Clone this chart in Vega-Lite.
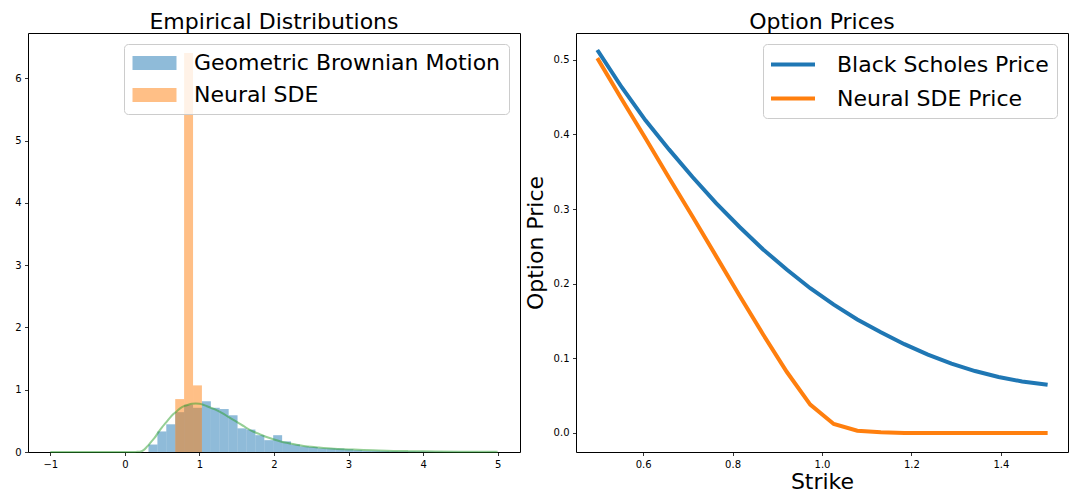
{
  "$schema": "https://vega.github.io/schema/vega-lite/v6.json",
  "padding": {"left": 0, "top": 10, "right": 0, "bottom": 0},
  "background": "white",
  "spacing": 2,
  "config": {
    "font": "DejaVu Sans",
    "view": {"stroke": "black", "strokeWidth": 1},
    "title": {"fontSize": 22, "font": "DejaVu Sans", "fontWeight": "normal", "color": "black", "offset": -1, "anchor": "middle"},
    "axis": {
      "grid": false, "domain": false, "tickColor": "black", "tickSize": 3.5, "tickWidth": 0.8,
      "labelFont": "DejaVu Sans", "labelFontSize": 10, "labelColor": "black", "labelPadding": 3.5,
      "titleFont": "DejaVu Sans", "titleFontSize": 22, "titleFontWeight": "normal", "titleColor": "black"
    },
    "legend": {
      "orient": "top-right", "offset": 11, "fillColor": "rgba(255,255,255,0.8)", "strokeColor": "#cccccc",
      "padding": 8, "cornerRadius": 4, "labelFont": "DejaVu Sans", "labelFontSize": 22, "labelColor": "black",
      "rowPadding": 10, "title": null, "labelLimit": 500, "symbolSize": 441
    }
  },
  "resolve": {"scale": {"color": "independent"}, "legend": {"color": "independent"}},
  "hconcat": [
    {
      "title": "Empirical Distributions",
      "width": 492,
      "height": 419,
      "layer": [
        {
          "data": {"values": [
            {"series": "Geometric Brownian Motion", "x0": 0.316, "x1": 0.436, "density": 0.12},
            {"series": "Geometric Brownian Motion", "x0": 0.436, "x1": 0.555, "density": 0.33},
            {"series": "Geometric Brownian Motion", "x0": 0.555, "x1": 0.675, "density": 0.445},
            {"series": "Geometric Brownian Motion", "x0": 0.675, "x1": 0.794, "density": 0.64},
            {"series": "Geometric Brownian Motion", "x0": 0.794, "x1": 0.914, "density": 0.76},
            {"series": "Geometric Brownian Motion", "x0": 0.914, "x1": 1.033, "density": 0.71},
            {"series": "Geometric Brownian Motion", "x0": 1.033, "x1": 1.153, "density": 0.815},
            {"series": "Geometric Brownian Motion", "x0": 1.153, "x1": 1.272, "density": 0.71},
            {"series": "Geometric Brownian Motion", "x0": 1.272, "x1": 1.392, "density": 0.69},
            {"series": "Geometric Brownian Motion", "x0": 1.392, "x1": 1.511, "density": 0.59},
            {"series": "Geometric Brownian Motion", "x0": 1.511, "x1": 1.631, "density": 0.38},
            {"series": "Geometric Brownian Motion", "x0": 1.631, "x1": 1.75, "density": 0.36},
            {"series": "Geometric Brownian Motion", "x0": 1.75, "x1": 1.87, "density": 0.27},
            {"series": "Geometric Brownian Motion", "x0": 1.87, "x1": 1.989, "density": 0.19},
            {"series": "Geometric Brownian Motion", "x0": 1.989, "x1": 2.109, "density": 0.27},
            {"series": "Geometric Brownian Motion", "x0": 2.109, "x1": 2.228, "density": 0.17},
            {"series": "Geometric Brownian Motion", "x0": 2.228, "x1": 2.348, "density": 0.12},
            {"series": "Geometric Brownian Motion", "x0": 2.348, "x1": 2.467, "density": 0.09},
            {"series": "Geometric Brownian Motion", "x0": 2.467, "x1": 2.587, "density": 0.08},
            {"series": "Geometric Brownian Motion", "x0": 2.587, "x1": 2.706, "density": 0.06},
            {"series": "Geometric Brownian Motion", "x0": 2.706, "x1": 2.826, "density": 0.06},
            {"series": "Geometric Brownian Motion", "x0": 2.826, "x1": 2.945, "density": 0.055},
            {"series": "Geometric Brownian Motion", "x0": 2.945, "x1": 3.065, "density": 0.045},
            {"series": "Geometric Brownian Motion", "x0": 3.065, "x1": 3.184, "density": 0.03},
            {"series": "Geometric Brownian Motion", "x0": 3.184, "x1": 3.304, "density": 0.02},
            {"series": "Geometric Brownian Motion", "x0": 3.304, "x1": 3.423, "density": 0.02},
            {"series": "Geometric Brownian Motion", "x0": 3.423, "x1": 3.543, "density": 0.015},
            {"series": "Geometric Brownian Motion", "x0": 3.543, "x1": 3.662, "density": 0.012},
            {"series": "Geometric Brownian Motion", "x0": 3.662, "x1": 3.782, "density": 0.01},
            {"series": "Geometric Brownian Motion", "x0": 3.782, "x1": 3.901, "density": 0.01},
            {"series": "Geometric Brownian Motion", "x0": 3.901, "x1": 4.021, "density": 0.008},
            {"series": "Geometric Brownian Motion", "x0": 4.021, "x1": 4.14, "density": 0.006},
            {"series": "Geometric Brownian Motion", "x0": 4.14, "x1": 4.26, "density": 0.005},
            {"series": "Geometric Brownian Motion", "x0": 4.26, "x1": 4.379, "density": 0.004},
            {"series": "Geometric Brownian Motion", "x0": 4.379, "x1": 4.499, "density": 0.004},
            {"series": "Geometric Brownian Motion", "x0": 4.499, "x1": 4.618, "density": 0.003},
            {"series": "Geometric Brownian Motion", "x0": 4.618, "x1": 4.738, "density": 0.003},
            {"series": "Geometric Brownian Motion", "x0": 4.738, "x1": 4.857, "density": 0.002},
            {"series": "Geometric Brownian Motion", "x0": 4.857, "x1": 4.977, "density": 0.003},
            {"series": "Neural SDE", "x0": 0.675, "x1": 0.794, "density": 0.85},
            {"series": "Neural SDE", "x0": 0.794, "x1": 0.914, "density": 6.41},
            {"series": "Neural SDE", "x0": 0.914, "x1": 1.033, "density": 1.07}
          ]},
          "mark": {"type": "rect", "opacity": 0.5},
          "encoding": {
            "x": {"field": "x0", "type": "quantitative", "scale": {"domain": [-1.3, 5.3], "nice": false, "zero": false},
                  "axis": {"values": [-1, 0, 1, 2, 3, 4, 5], "format": "d", "title": null}},
            "x2": {"field": "x1"},
            "y": {"field": "density", "type": "quantitative", "stack": null, "scale": {"domain": [0, 6.73], "nice": false},
                  "axis": {"values": [0, 1, 2, 3, 4, 5, 6], "format": "d", "title": null, "minExtent": 27}},
            "y2": {"datum": 0},
            "color": {"field": "series", "type": "nominal",
                      "scale": {"domain": ["Geometric Brownian Motion", "Neural SDE"], "range": ["#1f77b4", "#ff7f0e"]},
                      "legend": {"symbolType": "M-1,-0.667H3.19V0.667H-1Z", "symbolSize": 441, "symbolOpacity": 0.5,
                                 "symbolStrokeWidth": 0, "labelOffset": 40}}
          }
        },
        {
          "data": {"values": [
            {"x": -1.0, "kde": 0}, {"x": -0.5, "kde": 0}, {"x": 0.0, "kde": 0}, {"x": 0.1, "kde": 0.0},
            {"x": 0.15, "kde": 0.002}, {"x": 0.2, "kde": 0.005}, {"x": 0.25, "kde": 0.03}, {"x": 0.3, "kde": 0.09},
            {"x": 0.35, "kde": 0.16}, {"x": 0.4, "kde": 0.23}, {"x": 0.45, "kde": 0.32}, {"x": 0.5, "kde": 0.4},
            {"x": 0.55, "kde": 0.47}, {"x": 0.6, "kde": 0.545}, {"x": 0.65, "kde": 0.61}, {"x": 0.7, "kde": 0.66},
            {"x": 0.75, "kde": 0.71}, {"x": 0.8, "kde": 0.74}, {"x": 0.85, "kde": 0.76}, {"x": 0.9, "kde": 0.775},
            {"x": 0.95, "kde": 0.78}, {"x": 1.0, "kde": 0.775}, {"x": 1.05, "kde": 0.76}, {"x": 1.1, "kde": 0.735},
            {"x": 1.2, "kde": 0.69}, {"x": 1.3, "kde": 0.63}, {"x": 1.4, "kde": 0.555}, {"x": 1.5, "kde": 0.485},
            {"x": 1.6, "kde": 0.41}, {"x": 1.7, "kde": 0.34}, {"x": 1.8, "kde": 0.29}, {"x": 1.9, "kde": 0.24},
            {"x": 2.0, "kde": 0.2}, {"x": 2.1, "kde": 0.165}, {"x": 2.2, "kde": 0.14}, {"x": 2.3, "kde": 0.115},
            {"x": 2.4, "kde": 0.097}, {"x": 2.5, "kde": 0.083}, {"x": 2.6, "kde": 0.072}, {"x": 2.8, "kde": 0.053},
            {"x": 3.0, "kde": 0.042}, {"x": 3.2, "kde": 0.031}, {"x": 3.4, "kde": 0.024}, {"x": 3.6, "kde": 0.018},
            {"x": 3.8, "kde": 0.014}, {"x": 4.0, "kde": 0.011}, {"x": 4.5, "kde": 0.006}, {"x": 5.0, "kde": 0.003}
          ]},
          "mark": {"type": "line", "color": "#2ca02c", "opacity": 0.5, "strokeWidth": 2, "interpolate": "monotone"},
          "encoding": {
            "x": {"field": "x", "type": "quantitative"},
            "y": {"field": "kde", "type": "quantitative"}
          }
        }
      ]
    },
    {
      "title": "Option Prices",
      "width": 492,
      "height": 419,
      "data": {"values": [
        {"strike": 0.5, "price": 0.511, "series": "Black Scholes Price"},
        {"strike": 0.5526, "price": 0.463, "series": "Black Scholes Price"},
        {"strike": 0.6053, "price": 0.419, "series": "Black Scholes Price"},
        {"strike": 0.6579, "price": 0.38, "series": "Black Scholes Price"},
        {"strike": 0.7105, "price": 0.343, "series": "Black Scholes Price"},
        {"strike": 0.7632, "price": 0.308, "series": "Black Scholes Price"},
        {"strike": 0.8158, "price": 0.276, "series": "Black Scholes Price"},
        {"strike": 0.8684, "price": 0.246, "series": "Black Scholes Price"},
        {"strike": 0.9211, "price": 0.219, "series": "Black Scholes Price"},
        {"strike": 0.9737, "price": 0.194, "series": "Black Scholes Price"},
        {"strike": 1.0263, "price": 0.172, "series": "Black Scholes Price"},
        {"strike": 1.0789, "price": 0.152, "series": "Black Scholes Price"},
        {"strike": 1.1316, "price": 0.135, "series": "Black Scholes Price"},
        {"strike": 1.1842, "price": 0.119, "series": "Black Scholes Price"},
        {"strike": 1.2368, "price": 0.105, "series": "Black Scholes Price"},
        {"strike": 1.2895, "price": 0.093, "series": "Black Scholes Price"},
        {"strike": 1.3421, "price": 0.083, "series": "Black Scholes Price"},
        {"strike": 1.3947, "price": 0.075, "series": "Black Scholes Price"},
        {"strike": 1.4474, "price": 0.069, "series": "Black Scholes Price"},
        {"strike": 1.5, "price": 0.065, "series": "Black Scholes Price"},
        {"strike": 0.5, "price": 0.5, "series": "Neural SDE Price"},
        {"strike": 0.5526, "price": 0.447, "series": "Neural SDE Price"},
        {"strike": 0.6053, "price": 0.395, "series": "Neural SDE Price"},
        {"strike": 0.6579, "price": 0.342, "series": "Neural SDE Price"},
        {"strike": 0.7105, "price": 0.29, "series": "Neural SDE Price"},
        {"strike": 0.7632, "price": 0.237, "series": "Neural SDE Price"},
        {"strike": 0.8158, "price": 0.184, "series": "Neural SDE Price"},
        {"strike": 0.8684, "price": 0.132, "series": "Neural SDE Price"},
        {"strike": 0.9211, "price": 0.082, "series": "Neural SDE Price"},
        {"strike": 0.9737, "price": 0.038, "series": "Neural SDE Price"},
        {"strike": 1.0263, "price": 0.012, "series": "Neural SDE Price"},
        {"strike": 1.0789, "price": 0.003, "series": "Neural SDE Price"},
        {"strike": 1.1316, "price": 0.001, "series": "Neural SDE Price"},
        {"strike": 1.1842, "price": 0.0, "series": "Neural SDE Price"},
        {"strike": 1.2368, "price": 0.0, "series": "Neural SDE Price"},
        {"strike": 1.2895, "price": 0.0, "series": "Neural SDE Price"},
        {"strike": 1.3421, "price": 0.0, "series": "Neural SDE Price"},
        {"strike": 1.3947, "price": 0.0, "series": "Neural SDE Price"},
        {"strike": 1.4474, "price": 0.0, "series": "Neural SDE Price"},
        {"strike": 1.5, "price": 0.0, "series": "Neural SDE Price"}
      ]},
      "mark": {"type": "line", "strokeWidth": 4, "strokeCap": "square"},
      "encoding": {
        "x": {"field": "strike", "type": "quantitative", "scale": {"domain": [0.45, 1.55], "nice": false, "zero": false},
              "axis": {"values": [0.6, 0.8, 1.0, 1.2, 1.4], "format": ".1f", "title": "Strike", "titlePadding": 2}},
        "y": {"field": "price", "type": "quantitative", "scale": {"domain": [-0.0255, 0.536], "nice": false, "zero": false},
              "axis": {"values": [0, 0.1, 0.2, 0.3, 0.4, 0.5], "format": ".1f", "title": "Option Price", "titlePadding": 6}},
        "color": {"field": "series", "type": "nominal",
                  "scale": {"domain": ["Black Scholes Price", "Neural SDE Price"], "range": ["#1f77b4", "#ff7f0e"]},
                  "legend": {"symbolType": "M-1.19,0H3.0", "symbolSize": 441, "symbolStrokeWidth": 4, "labelOffset": 41}}
      }
    }
  ]
}
